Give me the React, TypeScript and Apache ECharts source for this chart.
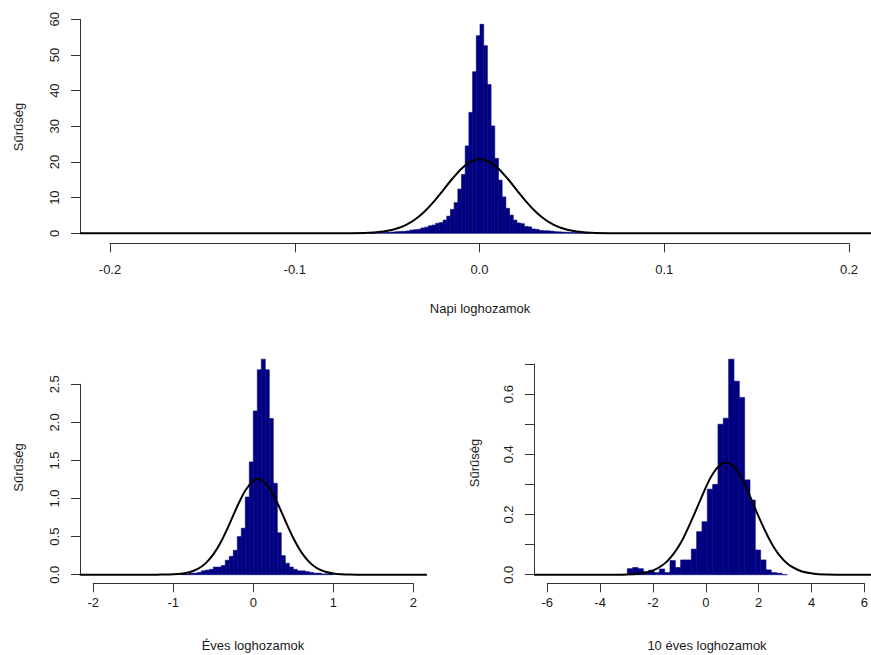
import React, { useEffect, useRef } from "react";
import * as echarts from "echarts";

// ---------- Data ----------
// Panel 1: daily log returns, histogram bins of width 0.002 starting at -0.060
const dailyBinStart = -0.06;
const dailyBinWidth = 0.002;
const dailyDensity = [
  0.05, 0.15, 0.2, 0.2, 0.25, 0.3, 0.35, 0.45, 0.5, 0.55,
  0.65, 0.9, 1.0, 1.1, 1.5, 1.7, 2.1, 2.3, 2.8, 3.0,
  3.7, 4.8, 6.7, 8.6, 12.4, 16.5, 24.5, 33.9, 45.3, 55.4,
  58.6, 52.6, 41.7, 30.1, 21.0, 14.9, 10.2, 7.0, 5.1, 3.7,
  2.9, 2.7, 1.9, 1.8, 1.2, 1.1, 0.8, 0.7, 0.7, 0.6,
  0.45, 0.4, 0.35, 0.3, 0.25, 0.2, 0.2, 0.15, 0.1, 0.05,
];
const dailyCurveX = [
  -0.2165, -0.08, -0.07, -0.06, -0.055, -0.05, -0.045, -0.04, -0.035, -0.03, -0.025, -0.02, -0.015, -0.01, -0.005,
  0, 0.005, 0.01, 0.015, 0.02, 0.025, 0.03, 0.035, 0.04, 0.045, 0.05, 0.055, 0.06, 0.07, 0.08, 0.2165,
];
const dailyCurveY = [
  0, 0.0, 0.03, 0.16, 0.34, 0.7, 1.33, 2.37, 3.94, 6.12, 8.89, 12.06, 15.29, 18.12, 20.06,
  20.75, 20.06, 18.12, 15.29, 12.06, 8.89, 6.12, 3.94, 2.37, 1.33, 0.7, 0.34, 0.16, 0.03, 0.0, 0,
];

// Panel 2: yearly log returns, bins of width 0.05 starting at -0.90
const yearlyBinStart = -0.9;
const yearlyBinWidth = 0.05;
const yearlyDensity = [
  0.01, 0.01, 0.02, 0.02, 0.03, 0.05, 0.06, 0.07, 0.1, 0.1,
  0.12, 0.19, 0.24, 0.32, 0.5, 0.61, 1.02, 1.48, 2.15, 2.69,
  2.83, 2.69, 2.05, 1.2, 0.55, 0.25, 0.15, 0.1, 0.07, 0.05,
  0.05, 0.04, 0.03, 0.02, 0.02, 0.01, 0.01, 0.01,
];
const yearlyCurveX = [
  -2.17, -1.3, -1.2, -1.1, -1.0, -0.9, -0.8, -0.7, -0.6, -0.5, -0.4, -0.3, -0.2, -0.1, 0, 0.06,
  0.1, 0.2, 0.3, 0.4, 0.5, 0.6, 0.7, 0.8, 0.9, 1.0, 1.1, 1.2, 1.3, 2.17,
];
const yearlyCurveY = [
  0, 0.0002, 0.0005, 0.0016, 0.0048, 0.013, 0.032, 0.072, 0.145, 0.266, 0.44, 0.66, 0.898, 1.106, 1.234, 1.256,
  1.246, 1.14, 0.944, 0.708, 0.481, 0.296, 0.165, 0.083, 0.038, 0.0157, 0.0059, 0.002, 0.0005, 0,
];

// Panel 3: 10-year log returns, bins of width 0.2 starting at -3.0
const decadeBinStart = -3.0;
const decadeBinWidth = 0.2;
const decadeDensity = [
  0.02, 0.024, 0.02, 0.01, 0.015, 0.007, 0.019, 0.007, 0.047, 0.024,
  0.049, 0.049, 0.085, 0.143, 0.176, 0.284, 0.3, 0.5, 0.52, 0.716,
  0.643, 0.589, 0.315, 0.248, 0.082, 0.049, 0.016, 0.007, 0.005, 0.0,
];
const decadeCurveX = [
  -6.5, -4.5, -4, -3.5, -3, -2.5, -2, -1.5, -1, -0.5, 0, 0.25, 0.5, 0.7, 1, 1.25, 1.5, 2, 2.5, 3, 3.5, 4, 4.5, 5, 6.5,
];
const decadeCurveY = [
  0, 0.000003, 0.00002, 0.00017, 0.00094, 0.0042, 0.0154, 0.045, 0.105, 0.199, 0.301, 0.341, 0.3665, 0.373, 0.3586,
  0.3275, 0.282, 0.178, 0.0905, 0.0369, 0.0121, 0.0032, 0.00068, 0.0001, 0,
];

const yTitle = "Sűrűség";
const xTitles = ["Napi loghozamok", "Éves loghozamok", "10 éves loghozamok"];

// ---------- helpers ----------
const FONT = "'Liberation Sans', Arial, sans-serif";
const BAR = "#000080";
const AXIS = "#333333";
const TEXT = "#1a1a1a";

function bins(start: number, width: number, dens: number[]) {
  return dens.map((d, i) => [start + i * width, start + (i + 1) * width, d]);
}
function pairs(xs: number[], ys: number[]) {
  return xs.map((x, i) => [x, ys[i]]);
}

const renderBar = (params: any, api: any) => {
  const x0 = api.value(0);
  const x1 = api.value(1);
  const h = api.value(2);
  const p0 = api.coord([x0, h]);
  const p1 = api.coord([x1, 0]);
  return {
    type: "rect",
    shape: { x: p0[0], y: p0[1], width: p1[0] - p0[0], height: p1[1] - p0[1] },
    style: { fill: BAR, stroke: BAR, lineWidth: 0.6 },
  };
};

function xAxisCfg(grid: number, min: number, max: number, interval: number, offset: number, margin: number, fmt: (v: number) => string) {
  return {
    type: "value",
    gridIndex: grid,
    min,
    max,
    interval,
    offset,
    axisLine: { show: true, onZero: false, lineStyle: { color: AXIS, width: 1 } },
    axisTick: { show: true, length: 9, lineStyle: { color: AXIS } },
    axisLabel: { show: true, margin, color: TEXT, fontSize: 13, fontFamily: FONT, formatter: fmt, hideOverlap: false },
    splitLine: { show: false },
  };
}
function yAxisCfg(grid: number, min: number, max: number, interval: number, offset: number, fmt: (v: number) => string) {
  return {
    type: "value",
    gridIndex: grid,
    min,
    max,
    interval,
    offset,
    axisLine: { show: true, onZero: false, lineStyle: { color: AXIS, width: 1 } },
    axisTick: { show: true, length: 9, lineStyle: { color: AXIS } },
    axisLabel: { show: true, rotate: 90, margin: 19, color: TEXT, fontSize: 13, fontFamily: FONT, formatter: fmt, hideOverlap: false },
    splitLine: { show: false },
  };
}
function hiddenAxis(grid: number, min: number, max: number) {
  return { type: "value", gridIndex: grid, min, max, show: false, splitLine: { show: false } };
}

function textEl(text: string, x: number, y: number, vertical: boolean) {
  return {
    type: "text",
    x,
    y,
    rotation: vertical ? Math.PI / 2 : 0,
    style: {
      text,
      fill: TEXT,
      fontSize: 13,
      fontFamily: FONT,
      align: "center",
      verticalAlign: "middle",
      textAlign: "center",
      textVerticalAlign: "middle",
    },
  };
}

export default function App() {
  const ref = useRef<HTMLDivElement>(null);
  useEffect(() => {
    if (!ref.current) return;
    const chart = echarts.init(ref.current, null, { renderer: "svg" });
    const fix1 = (v: number) => (Math.abs(v) < 1e-9 ? "0.0" : v.toFixed(1));
    const int = (v: number) => String(Math.round(v));
    const evenTenth = (v: number) => (Math.round(v * 10) % 2 === 0 ? fix1(v) : "");
    const option: any = {
      animation: false,
      backgroundColor: "#ffffff",
      textStyle: { fontFamily: FONT },
      grid: [
        // axis frames (tick ranges)
        { left: 110, top: 19.3, width: 739, height: 214, containLabel: false },
        { left: 93.3, top: 384.3, width: 320, height: 190.4, containLabel: false },
        { left: 547.3, top: 364, width: 320, height: 210.7, containLabel: false },
        // data regions (visible part of each plot region)
        { left: 80, top: 19.3, width: 791, height: 221.13, containLabel: false },
        { left: 80, top: 353.8, width: 346.6, height: 228.5, containLabel: false },
        { left: 534, top: 348.95, width: 337, height: 234.78, containLabel: false },
      ],
      xAxis: [
        xAxisCfg(0, -0.2, 0.2, 0.1, 10, 20, fix1),
        xAxisCfg(1, -2, 2, 1, 8.6, 13, int),
        xAxisCfg(2, -6, 6, 2, 8.6, 13, int),
        hiddenAxis(3, -0.21651, 0.21164),
        hiddenAxis(4, -2.1663, 2.1663),
        hiddenAxis(5, -6.5, 6.139),
      ],
      yAxis: [
        yAxisCfg(0, 0, 60, 10, 30, int),
        yAxisCfg(1, 0, 2.5, 0.5, 13.3, fix1),
        yAxisCfg(2, 0, 0.7, 0.1, 13.3, evenTenth),
        hiddenAxis(3, -2, 60),
        hiddenAxis(4, -0.1, 2.9),
        hiddenAxis(5, -0.03, 0.75),
      ],
      series: [
        {
          type: "custom", xAxisIndex: 3, yAxisIndex: 3, clip: false,
          renderItem: renderBar, encode: { x: [0, 1], y: 2 },
          data: bins(dailyBinStart, dailyBinWidth, dailyDensity), z: 1,
        },
        {
          type: "line", xAxisIndex: 3, yAxisIndex: 3, showSymbol: false, symbol: "none",
          smooth: 0.3, lineStyle: { color: "#000", width: 2 },
          data: pairs(dailyCurveX, dailyCurveY), z: 3,
        },
        {
          type: "custom", xAxisIndex: 4, yAxisIndex: 4, clip: false,
          renderItem: renderBar, encode: { x: [0, 1], y: 2 },
          data: bins(yearlyBinStart, yearlyBinWidth, yearlyDensity), z: 1,
        },
        {
          type: "line", xAxisIndex: 4, yAxisIndex: 4, showSymbol: false, symbol: "none",
          smooth: 0.3, lineStyle: { color: "#000", width: 2 },
          data: pairs(yearlyCurveX, yearlyCurveY), z: 3,
        },
        {
          type: "custom", xAxisIndex: 5, yAxisIndex: 5, clip: false,
          renderItem: renderBar, encode: { x: [0, 1], y: 2 },
          data: bins(decadeBinStart, decadeBinWidth, decadeDensity), z: 1,
        },
        {
          type: "line", xAxisIndex: 5, yAxisIndex: 5, showSymbol: false, symbol: "none",
          smooth: 0.3, lineStyle: { color: "#000", width: 2 },
          data: pairs(decadeCurveX, decadeCurveY), z: 3,
        },
      ],
      graphic: [
        textEl(yTitle, 18.5, 127, true),
        textEl(xTitles[0], 480, 308, false),
        textEl(yTitle, 18.5, 467.5, true),
        textEl(xTitles[1], 253, 645, false),
        textEl(yTitle, 474, 463, true),
        textEl(xTitles[2], 707, 645, false),
      ],
    };
    chart.setOption(option);
    return () => chart.dispose();
  }, []);
  return (
    <div
      ref={ref}
      style={{ position: "absolute", left: 0, top: 0, width: 871, height: 655, background: "#fff" }}
    />
  );
}
